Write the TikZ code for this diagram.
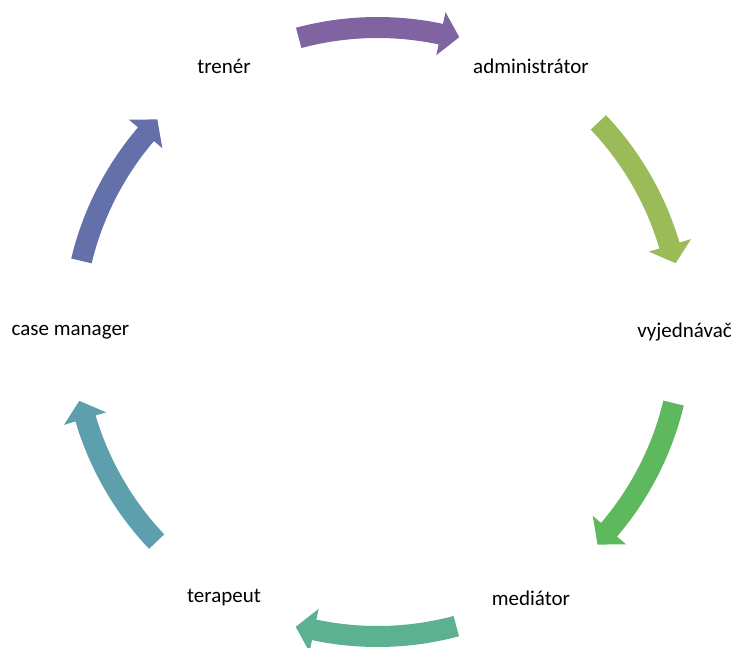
\documentclass[tikz,border=0pt]{standalone}
\usepackage{fontspec}
\setmainfont{Carlito}
\definecolor{cycPurple}{HTML}{8064A2}
\definecolor{cycLime}{HTML}{9BBB59}
\definecolor{cycGreen}{HTML}{5DB85E}
\definecolor{cycMint}{HTML}{5BB190}
\definecolor{cycTeal}{HTML}{5E9FAD}
\definecolor{cycBlue}{HTML}{6470AA}
\tikzset{
  role/.style={font=\fontsize{21}{25}\selectfont},
}

\begin{document}
\begin{tikzpicture}[x=1pt,y=1pt]
\useasboundingbox (-377.5,-316) rectangle (354.5,332);
\node[role] (trener) at (120:307) {trenér};
\node[role] (admin) at (60:307) {administrátor};
\node[role] (vyjed) at (0:307) {vyjednávač};
\node[role] (medi) at (-60:307) {mediátor};
\node[role] (terap) at (-120:307) {terapeut};
\node[role] (casem) at (180:307) {case manager};

\fill[cycPurple] (105:315) arc (105:78:315) -- (78:327) -- (74.5:306) -- (78:283) -- (78:294) arc (78:105:294) -- cycle;
\fill[cycLime] (43.5:315) arc (43.5:16.5:315) -- (16.5:327) -- (13:306) -- (16.5:283) -- (16.5:294) arc (16.5:43.5:294) -- cycle;
\fill[cycGreen] (-13.5:315) arc (-13.5:-40.5:315) -- (-40.5:327) -- (-44:306) -- (-40.5:283) -- (-40.5:294) arc (-40.5:-13.5:294) -- cycle;
\fill[cycMint] (-75:315) arc (-75:-102:315) -- (-102:327) -- (-105.5:306) -- (-102:283) -- (-102:294) arc (-102:-75:294) -- cycle;
\fill[cycTeal] (-136.5:315) arc (-136.5:-163.5:315) -- (-163.5:327) -- (-167:306) -- (-163.5:283) -- (-163.5:294) arc (-163.5:-136.5:294) -- cycle;
\fill[cycBlue] (166.5:315) arc (166.5:139.5:315) -- (139.5:327) -- (136:306) -- (139.5:283) -- (139.5:294) arc (139.5:166.5:294) -- cycle;
\end{tikzpicture}
\end{document}
